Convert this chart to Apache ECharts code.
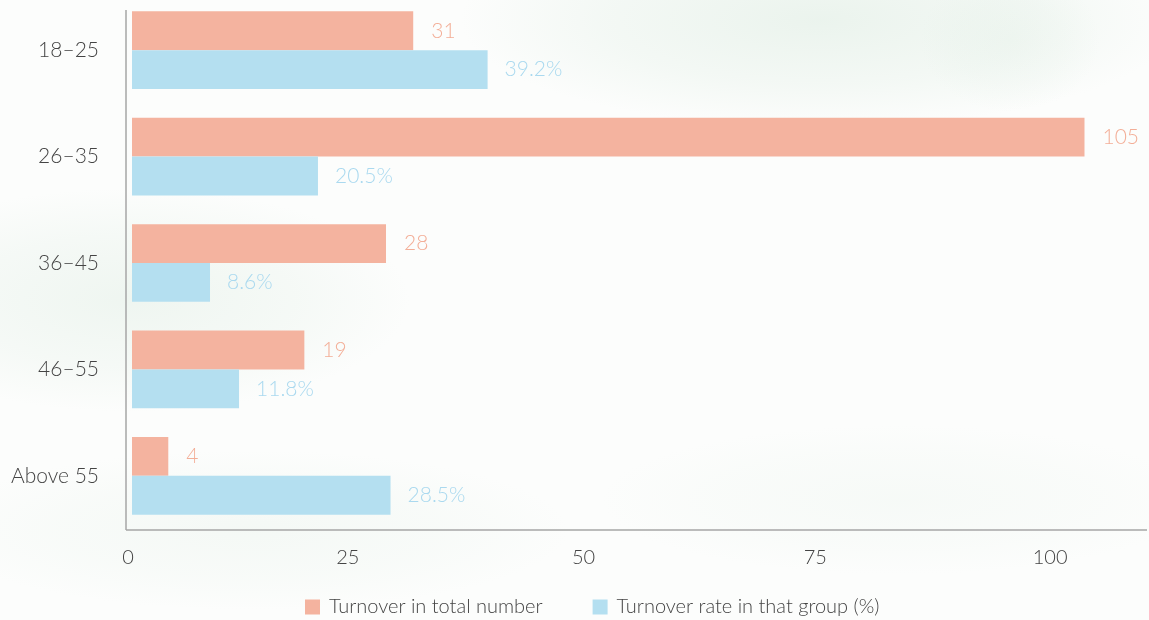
<!DOCTYPE html>
<html>
<head>
<meta charset="utf-8">
<script src="https://cdn.jsdelivr.net/npm/echarts@6/dist/echarts.min.js"></script>
<style>
  html, body { margin: 0; padding: 0; background: #fcfdfc; }
  #chart { width: 1149px; height: 620px; }
</style>
</head>
<body>
<div id="chart"></div>
<script>
// Age groups, top to bottom
const ageGroups = ['18\u201325', '26\u201335', '36\u201345', '46\u201355', 'Above 55'];
// Number of leavers per age group
const turnoverTotal = [31, 105, 28, 19, 4];
// Turnover rate within each age group (%)
const turnoverRate = [39.2, 20.5, 8.6, 11.8, 28.5];
const seriesNames = ['Turnover in total number', 'Turnover rate in that group (%)'];
// Value-axis tick labels
const xTicks = [0, 25, 50, 75, 100];

const ORANGE = '#f4b39f';
const BLUE = '#b4dff0';
const AXIS = '#a6a6a6';
const FONT = 'Lato, "Open Sans", sans-serif';

const chart = echarts.init(document.getElementById('chart'), null, { renderer: 'canvas' });

// faint green wash in the backdrop: soft elliptical glows
function glow(x, y, r, sy, alpha) {
  return {
    type: 'circle', silent: true, z: -10,
    x: x, y: y, scaleX: 1, scaleY: sy,
    shape: { cx: 0, cy: 0, r: r },
    style: {
      fill: new echarts.graphic.RadialGradient(0.5, 0.5, 0.5, [
        { offset: 0, color: 'rgba(214, 232, 219, ' + alpha + ')' },
        { offset: 0.6, color: 'rgba(214, 232, 219, ' + (alpha * 0.5) + ')' },
        { offset: 1, color: 'rgba(214, 232, 219, 0)' }
      ])
    }
  };
}
const backdrop = [
  glow(820, 20, 360, 0.3, 0.45),
  glow(1010, 40, 90, 0.8, 0.2),
  glow(130, 300, 280, 0.4, 0.35),
  glow(250, 530, 320, 0.25, 0.2),
  glow(900, 500, 300, 0.25, 0.15)
];

// horizontal nudges (px) for individual tick labels
const tickNudge = { 0: -4, 25: -11, 50: -2, 75: 3, 100: 11 };
const tickRich = {};
xTicks.forEach(v => {
  const n = tickNudge[v] || 0;
  tickRich['k' + v] = {
    fontSize: 20, fontWeight: 300, color: '#444', fontFamily: FONT,
    padding: n < 0 ? [0, -2 * n, 0, 0] : [0, 0, 0, 2 * n]
  };
});

chart.setOption({
  backgroundColor: '#fcfdfc',
  animation: false,
  textStyle: { fontFamily: FONT },
  grid: { left: 132, right: 1, top: -3, bottom: 91, containLabel: false, outerBoundsMode: 'none' },
  legend: {
    left: 300,
    top: 592,
    itemWidth: 15,
    itemHeight: 15,
    itemGap: 50,
    icon: 'rect',
    textStyle: { color: '#444', fontSize: 20, fontWeight: 300, fontFamily: FONT, padding: [0, 0, 0, 4] },
    data: seriesNames
  },
  xAxis: {
    type: 'value',
    min: 0,
    max: 112,
    interval: 25,
    splitLine: { show: false },
    axisTick: { show: false },
    axisLine: { show: false },
    axisLabel: {
      color: '#444',
      fontSize: 20,
      fontWeight: 300,
      margin: 19,
      showMaxLabel: false,
      fontFamily: FONT,
      formatter: v => (xTicks.indexOf(v) < 0 ? '' : '{k' + v + '|' + v + '}'),
      rich: tickRich
    }
  },
  yAxis: {
    type: 'category',
    inverse: true,
    data: ageGroups,
    axisLine: { show: false },
    axisTick: { show: false },
    axisLabel: {
      color: '#444',
      fontSize: 21,
      fontWeight: 300,
      margin: 33,
      padding: [0, 0, 6, 0],
      fontFamily: FONT
    }
  },
  graphic: backdrop.concat([
    {
      // vertical axis line
      type: 'line', silent: true, z: 10,
      shape: { x1: 126, y1: 10, x2: 126, y2: 530 },
      style: { stroke: AXIS, lineWidth: 1.5 }
    },
    {
      // horizontal axis line
      type: 'line', silent: true, z: 10,
      shape: { x1: 126, y1: 530, x2: 1147, y2: 530 },
      style: { stroke: AXIS, lineWidth: 1.5 }
    }
  ]),
  series: [
    {
      name: seriesNames[0],
      type: 'bar',
      data: turnoverTotal,
      barGap: '0%',
      barCategoryGap: '27%',
      itemStyle: { color: ORANGE },
      label: {
        show: true,
        position: 'right',
        distance: 18,
        color: '#f3ae97',
        fontSize: 21,
        fontWeight: 300,
        fontFamily: FONT
      }
    },
    {
      name: seriesNames[1],
      type: 'bar',
      data: turnoverRate,
      barGap: '0%',
      barCategoryGap: '27%',
      itemStyle: { color: BLUE },
      label: {
        show: true,
        position: 'right',
        distance: 17,
        color: '#aad9ef',
        fontSize: 21,
        fontWeight: 300,
        fontFamily: FONT,
        formatter: p => p.value + '%'
      }
    }
  ]
});
</script>
</body>
</html>
